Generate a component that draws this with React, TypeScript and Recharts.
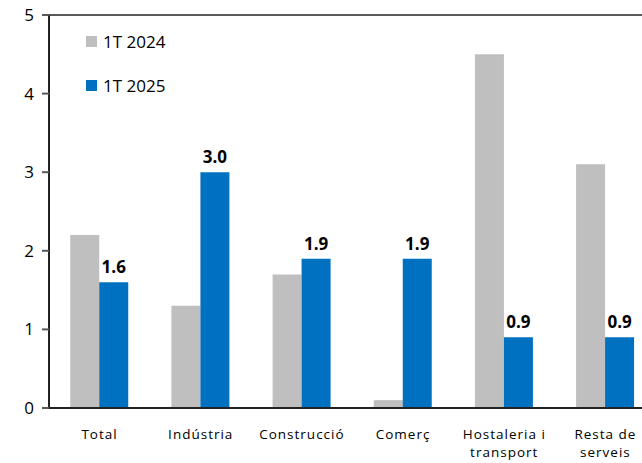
import { BarChart, Bar, XAxis, YAxis, LabelList, ReferenceLine } from 'recharts';

const categories = ['Total', 'Indústria', 'Construcció', 'Comerç', 'Hostaleria i transport', 'Resta de serveis'];
const values2024 = [2.2, 1.3, 1.7, 0.1, 4.5, 3.1];
const values2025 = [1.6, 3.0, 1.9, 1.9, 0.9, 0.9];
const yTicks = [0, 1, 2, 3, 4, 5];
const seriesNames = ['1T 2024', '1T 2025'];
const seriesColors = ['#BFBFBF', '#0070C0'];

const data = categories.map((name, i) => ({ name, a: values2024[i], b: values2025[i] }));

const FONT = 'Open Sans, sans-serif';

function CategoryTick({ x, y, payload }: any) {
  const words = String(payload.value).split(' ');
  const lines = words.length > 2 ? [words.slice(0, -1).join(' '), words[words.length - 1]] : [payload.value];
  return (
    <text x={x} y={y + 23} textAnchor="middle" fontSize={13.5} letterSpacing={1} fill="#000" fontFamily={FONT}>
      {lines.map((l: string, i: number) => (
        <tspan key={i} x={x} dy={i === 0 ? 0 : 18}>
          {l}
        </tspan>
      ))}
    </text>
  );
}

export default function App() {
  return (
    <div style={{ position: 'absolute', left: 0, top: 0, width: 642, height: 463, overflow: 'hidden', background: '#fff' }}>
      <BarChart
        width={660}
        height={463}
        data={data}
        margin={{ top: 15, right: 4, bottom: 0, left: 0 }}
        barCategoryGap="21%"
        barGap={0}
      >
        <XAxis
          dataKey="name"
          tick={<CategoryTick />}
          tickLine={false}
          axisLine={{ stroke: '#222', strokeWidth: 2 }}
          height={55}
          interval={0}
        />
        <YAxis
          domain={[0, 5]}
          ticks={yTicks}
          width={49}
          tickSize={7}
          tickLine={{ stroke: '#595959', strokeWidth: 2 }}
          axisLine={{ stroke: '#222', strokeWidth: 2 }}
          tick={{ fontSize: 17, fill: '#000', fontFamily: FONT }}
          tickMargin={8}
        />
        <ReferenceLine y={5} stroke="#595959" strokeWidth={2} />
        <Bar dataKey="a" name={seriesNames[0]} fill={seriesColors[0]} isAnimationActive={false} />
        <Bar dataKey="b" name={seriesNames[1]} fill={seriesColors[1]} isAnimationActive={false}>
          <LabelList
            dataKey="b"
            position="top"
            offset={9}
            formatter={(v: any) => Number(v).toFixed(1)}
            style={{ fontSize: 17, fontWeight: 700, fill: '#000', fontFamily: FONT }}
          />
        </Bar>
      </BarChart>
      <div style={{ position: 'absolute', left: 86, top: 30, fontFamily: FONT, fontSize: 17, color: '#000' }}>
        {seriesNames.map((n, i) => (
          <div key={n} style={{ display: 'flex', alignItems: 'center', height: 22, marginBottom: i === 0 ? 22 : 0 }}>
            <span style={{ width: 11, height: 11, background: seriesColors[i], display: 'inline-block', marginRight: 6 }} />
            {n}
          </div>
        ))}
      </div>
    </div>
  );
}
